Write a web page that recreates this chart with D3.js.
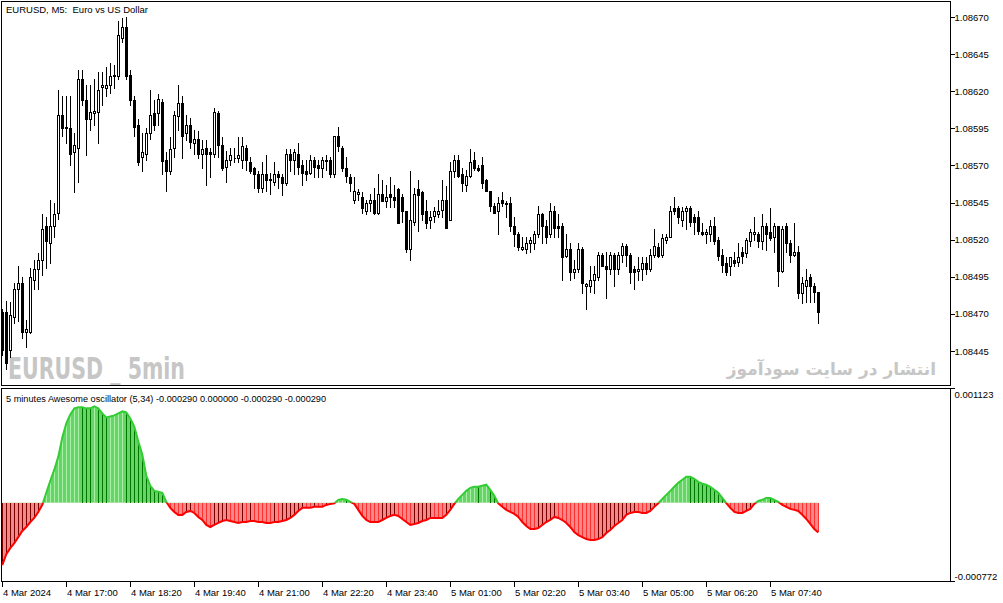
<!DOCTYPE html>
<html><head><meta charset="utf-8">
<script src="https://cdn.jsdelivr.net/npm/d3@7"></script>
<style>body{margin:0;background:#fff}svg{display:block}text{white-space:pre}</style>
</head><body>
<svg id="c" width="1003" height="603"></svg>
<script>
// ---- DATA ----
const openP=[1.08471,1.08471,1.08446,1.08468,1.08487,1.08491,1.08458,1.08458,1.08493,1.08500,
1.08506,1.08529,1.08518,1.08529,1.08538,1.08604,1.08596,1.08595,1.08579,1.08582,
1.08628,1.08614,1.08601,1.08605,1.08606,1.08623,1.08622,1.08624,1.08630,1.08630,
1.08656,1.08663,1.08631,1.08614,1.08597,1.08576,1.08578,1.08592,1.08605,1.08605,
1.08613,1.08574,1.08566,1.08582,1.08603,1.08612,1.08592,1.08597,1.08585,1.08588,
1.08578,1.08582,1.08579,1.08578,1.08605,1.08584,1.08569,1.08574,1.08575,1.08575,
1.08574,1.08582,1.08572,1.08568,1.08564,1.08555,1.08564,1.08560,1.08559,1.08564,
1.08562,1.08558,1.08578,1.08574,1.08578,1.08570,1.08566,1.08565,1.08574,1.08570,
1.08568,1.08574,1.08574,1.08564,1.08590,1.08582,1.08568,1.08562,1.08547,1.08551,
1.08549,1.08539,1.08545,1.08547,1.08538,1.08551,1.08546,1.08551,1.08549,1.08554,
1.08549,1.08539,1.08514,1.08532,1.08554,1.08552,1.08539,1.08533,1.08536,1.08537,
1.08540,1.08547,1.08533,1.08566,1.08574,1.08564,1.08557,1.08563,1.08574,1.08568,
1.08570,1.08560,1.08553,1.08543,1.08539,1.08547,1.08545,1.08545,1.08529,1.08524,
1.08514,1.08514,1.08518,1.08518,1.08524,1.08537,1.08529,1.08524,1.08539,1.08529,
1.08529,1.08509,1.08514,1.08498,1.08500,1.08514,1.08489,1.08489,1.08493,1.08495,
1.08510,1.08502,1.08500,1.08510,1.08500,1.08510,1.08516,1.08510,1.08500,1.08499,
1.08500,1.08504,1.08500,1.08510,1.08515,1.08510,1.08520,1.08522,1.08541,1.08541,
1.08533,1.08539,1.08541,1.08535,1.08535,1.08525,1.08524,1.08524,1.08529,1.08520,
1.08510,1.08504,1.08502,1.08506,1.08505,1.08512,1.08511,1.08519,1.08524,1.08524,
1.08519,1.08529,1.08525,1.08522,1.08529,1.08499,1.08529,1.08518,1.08510,1.08512,
1.08484,1.08489,1.08495,1.08489,1.08485];
const highP=[1.08473,1.08479,1.08478,1.08491,1.08502,1.08495,1.08466,1.08501,1.08506,1.08511,
1.08537,1.08535,1.08547,1.08545,1.08621,1.08617,1.08617,1.08617,1.08592,1.08634,
1.08634,1.08624,1.08624,1.08628,1.08633,1.08633,1.08636,1.08639,1.08638,1.08667,
1.08669,1.08670,1.08634,1.08617,1.08601,1.08592,1.08595,1.08621,1.08614,1.08618,
1.08615,1.08579,1.08589,1.08607,1.08624,1.08617,1.08604,1.08602,1.08594,1.08593,
1.08587,1.08587,1.08582,1.08609,1.08607,1.08589,1.08580,1.08582,1.08582,1.08589,
1.08589,1.08584,1.08576,1.08569,1.08566,1.08572,1.08577,1.08565,1.08572,1.08566,
1.08564,1.08581,1.08581,1.08581,1.08585,1.08574,1.08574,1.08577,1.08576,1.08574,
1.08576,1.08577,1.08576,1.08590,1.08596,1.08583,1.08576,1.08564,1.08562,1.08554,
1.08552,1.08547,1.08551,1.08555,1.08564,1.08560,1.08557,1.08562,1.08557,1.08555,
1.08551,1.08539,1.08566,1.08555,1.08560,1.08553,1.08547,1.08539,1.08542,1.08547,
1.08560,1.08556,1.08572,1.08577,1.08577,1.08568,1.08567,1.08581,1.08579,1.08570,
1.08576,1.08561,1.08553,1.08545,1.08549,1.08552,1.08546,1.08549,1.08535,1.08525,
1.08522,1.08522,1.08522,1.08526,1.08543,1.08538,1.08533,1.08545,1.08543,1.08537,
1.08531,1.08524,1.08518,1.08506,1.08518,1.08515,1.08491,1.08502,1.08502,1.08512,
1.08511,1.08512,1.08512,1.08511,1.08512,1.08518,1.08517,1.08511,1.08502,1.08508,
1.08508,1.08508,1.08514,1.08527,1.08518,1.08524,1.08524,1.08543,1.08549,1.08543,
1.08542,1.08543,1.08543,1.08537,1.08539,1.08531,1.08527,1.08533,1.08535,1.08522,
1.08514,1.08508,1.08508,1.08512,1.08518,1.08515,1.08521,1.08527,1.08535,1.08525,
1.08537,1.08531,1.08541,1.08531,1.08529,1.08529,1.08531,1.08520,1.08531,1.08516,
1.08495,1.08500,1.08497,1.08491,1.08485];
const lowP=[1.08442,1.08433,1.08441,1.08464,1.08465,1.08454,1.08448,1.08457,1.08487,1.08487,
1.08496,1.08501,1.08504,1.08522,1.08534,1.08590,1.08585,1.08570,1.08552,1.08559,
1.08611,1.08577,1.08594,1.08597,1.08585,1.08611,1.08617,1.08619,1.08622,1.08628,
1.08653,1.08628,1.08611,1.08590,1.08570,1.08566,1.08574,1.08588,1.08594,1.08597,
1.08564,1.08553,1.08564,1.08576,1.08594,1.08575,1.08587,1.08582,1.08578,1.08575,
1.08568,1.08557,1.08562,1.08576,1.08576,1.08567,1.08559,1.08570,1.08572,1.08572,
1.08568,1.08567,1.08565,1.08555,1.08552,1.08552,1.08553,1.08551,1.08557,1.08555,
1.08550,1.08557,1.08566,1.08564,1.08564,1.08557,1.08560,1.08564,1.08562,1.08562,
1.08562,1.08567,1.08562,1.08562,1.08580,1.08566,1.08559,1.08553,1.08545,1.08547,
1.08538,1.08537,1.08539,1.08537,1.08537,1.08546,1.08542,1.08542,1.08542,1.08531,
1.08532,1.08512,1.08506,1.08530,1.08526,1.08533,1.08528,1.08528,1.08532,1.08535,
1.08535,1.08528,1.08533,1.08562,1.08562,1.08553,1.08553,1.08562,1.08567,1.08566,
1.08555,1.08553,1.08539,1.08538,1.08524,1.08543,1.08535,1.08526,1.08516,1.08513,
1.08513,1.08511,1.08512,1.08514,1.08522,1.08518,1.08518,1.08522,1.08522,1.08522,
1.08493,1.08508,1.08493,1.08494,1.08498,1.08484,1.08473,1.08485,1.08484,1.08493,
1.08502,1.08481,1.08497,1.08489,1.08497,1.08505,1.08502,1.08491,1.08487,1.08493,
1.08493,1.08497,1.08499,1.08508,1.08508,1.08508,1.08518,1.08522,1.08537,1.08531,
1.08529,1.08527,1.08529,1.08524,1.08524,1.08523,1.08518,1.08519,1.08517,1.08506,
1.08498,1.08496,1.08496,1.08502,1.08502,1.08504,1.08508,1.08516,1.08520,1.08515,
1.08514,1.08513,1.08520,1.08512,1.08489,1.08498,1.08512,1.08505,1.08509,1.08481,
1.08477,1.08478,1.08478,1.08478,1.08464];
const closeP=[1.08446,1.08437,1.08469,1.08487,1.08491,1.08458,1.08460,1.08495,1.08500,1.08506,
1.08527,1.08519,1.08529,1.08537,1.08604,1.08595,1.08595,1.08578,1.08584,1.08628,
1.08614,1.08601,1.08606,1.08607,1.08621,1.08624,1.08624,1.08630,1.08631,1.08658,
1.08663,1.08630,1.08614,1.08596,1.08572,1.08579,1.08592,1.08604,1.08597,1.08615,
1.08573,1.08566,1.08581,1.08604,1.08612,1.08590,1.08597,1.08586,1.08588,1.08578,
1.08581,1.08578,1.08578,1.08606,1.08584,1.08568,1.08574,1.08577,1.08575,1.08577,
1.08583,1.08574,1.08566,1.08564,1.08555,1.08564,1.08560,1.08561,1.08564,1.08562,
1.08558,1.08578,1.08574,1.08579,1.08569,1.08565,1.08564,1.08574,1.08569,1.08568,
1.08574,1.08573,1.08564,1.08590,1.08583,1.08568,1.08563,1.08558,1.08553,1.08552,
1.08541,1.08545,1.08547,1.08538,1.08551,1.08546,1.08549,1.08549,1.08547,1.08531,
1.08539,1.08514,1.08533,1.08551,1.08550,1.08537,1.08531,1.08535,1.08539,1.08539,
1.08547,1.08528,1.08566,1.08574,1.08563,1.08558,1.08563,1.08572,1.08568,1.08567,
1.08558,1.08553,1.08543,1.08538,1.08545,1.08545,1.08544,1.08529,1.08524,1.08515,
1.08515,1.08518,1.08520,1.08524,1.08537,1.08529,1.08522,1.08539,1.08528,1.08528,
1.08508,1.08514,1.08498,1.08500,1.08514,1.08491,1.08490,1.08493,1.08497,1.08510,
1.08502,1.08500,1.08510,1.08500,1.08510,1.08516,1.08510,1.08498,1.08498,1.08500,
1.08504,1.08500,1.08510,1.08516,1.08509,1.08521,1.08522,1.08539,1.08539,1.08535,
1.08539,1.08541,1.08532,1.08532,1.08526,1.08524,1.08525,1.08529,1.08519,1.08509,
1.08503,1.08498,1.08508,1.08504,1.08508,1.08509,1.08520,1.08525,1.08525,1.08519,
1.08529,1.08524,1.08521,1.08529,1.08499,1.08527,1.08518,1.08510,1.08512,1.08484,
1.08491,1.08493,1.08489,1.08485,1.08471];
const aoValues=[-0.000612,-0.000503,-0.000444,-0.000395,-0.000336,-0.000276,-0.000237,-0.000188,-0.000148,-0.000089,
-0.000020,0.000099,0.000217,0.000326,0.000454,0.000642,0.000780,0.000869,0.000928,0.000938,
0.000938,0.000928,0.000928,0.000948,0.000928,0.000878,0.000839,0.000849,0.000859,0.000878,
0.000898,0.000888,0.000829,0.000750,0.000602,0.000474,0.000266,0.000168,0.000118,0.000109,
0.000099,0.000010,-0.000049,-0.000089,-0.000118,-0.000118,-0.000089,-0.000079,-0.000099,-0.000138,
-0.000168,-0.000217,-0.000237,-0.000217,-0.000197,-0.000178,-0.000168,-0.000178,-0.000188,-0.000197,
-0.000188,-0.000188,-0.000178,-0.000178,-0.000188,-0.000188,-0.000197,-0.000197,-0.000188,-0.000188,
-0.000178,-0.000168,-0.000148,-0.000118,-0.000079,-0.000049,-0.000049,-0.000049,-0.000039,-0.000039,
-0.000039,-0.000020,-0.000010,-0.000005,0.000030,0.000039,0.000030,0.000010,-0.000010,-0.000069,
-0.000128,-0.000168,-0.000188,-0.000188,-0.000188,-0.000168,-0.000148,-0.000128,-0.000118,-0.000128,
-0.000158,-0.000188,-0.000217,-0.000207,-0.000197,-0.000178,-0.000168,-0.000148,-0.000148,-0.000148,
-0.000148,-0.000118,-0.000069,-0.000010,0.000039,0.000079,0.000118,0.000148,0.000158,0.000158,
0.000168,0.000178,0.000128,0.000069,-0.000005,-0.000039,-0.000069,-0.000089,-0.000109,-0.000138,
-0.000188,-0.000227,-0.000257,-0.000257,-0.000247,-0.000217,-0.000188,-0.000168,-0.000138,-0.000148,
-0.000168,-0.000197,-0.000237,-0.000286,-0.000316,-0.000336,-0.000355,-0.000365,-0.000365,-0.000355,
-0.000336,-0.000296,-0.000266,-0.000227,-0.000197,-0.000168,-0.000118,-0.000099,-0.000089,-0.000089,
-0.000099,-0.000099,-0.000079,-0.000039,-0.000003,0.000039,0.000079,0.000118,0.000158,0.000197,
0.000227,0.000257,0.000257,0.000237,0.000207,0.000188,0.000178,0.000158,0.000128,0.000099,
0.000049,-0.000003,-0.000049,-0.000089,-0.000099,-0.000099,-0.000079,-0.000059,-0.000010,0.000020,
0.000030,0.000049,0.000049,0.000030,0.000010,-0.000020,-0.000039,-0.000059,-0.000069,-0.000079,
-0.000118,-0.000158,-0.000207,-0.000257,-0.000290];
const priceTicks=[1.08670,1.08645,1.08620,1.08595,1.08570,1.08545,1.08520,1.08495,1.08470,1.08445];
const aoRange=[-0.000772,0.001123];
const timeTickIndex=[0,16,32,48,64,80,96,112,128,144,160,176,192];
const timeTickLabels=["4 Mar 2024","4 Mar 17:00","4 Mar 18:20","4 Mar 19:40","4 Mar 21:00","4 Mar 22:20","4 Mar 23:40","5 Mar 01:00","5 Mar 02:20","5 Mar 03:40","5 Mar 05:00","5 Mar 06:20","5 Mar 07:40"];
const titleMain="EURUSD, M5:  Euro vs US Dollar";
const titleAO="5 minutes Awesome oscillator (5,34) -0.000290 0.000000 -0.000290 -0.000290";

// ---- DRAW ----
const FONT="'Liberation Sans', Arial, sans-serif";
const svg=d3.select("#c");
svg.append("rect").attr("width",1003).attr("height",603).attr("fill","#fff");
const L=1.5,R=950.5,mTop=1.5,mBot=385.5,sTop=388.5,sBot=581.5;
const n=openP.length;
const x=d3.scaleLinear().domain([0,n-1]).range([2.3,2.3+4*(n-1)]);
const yP=d3.scaleLinear().domain([1.08445,1.08670]).range([351,17]);
const yA=d3.scaleLinear().domain(aoRange).range([sBot,sTop]);
const col=i=>Math.floor(x(i))+0.5;

// watermarks
svg.append("text").attr("x",8).attr("y",378.5).attr("font-family","'Liberation Sans Narrow','DejaVu Sans Condensed',Arial,sans-serif")
  .attr("font-weight","bold").attr("font-size",30).attr("fill","#c6c6c6")
  .attr("textLength",177).attr("lengthAdjust","spacingAndGlyphs").text("EURUSD _ 5min");
svg.append("text").attr("x",936).attr("y",375).attr("text-anchor","start").attr("direction","rtl")
  .attr("font-family","'DejaVu Sans',sans-serif").attr("font-weight","bold").attr("font-size",17).attr("fill","#c6c6c6")
  .text("انتشار در سایت سودآموز");

// candles
const cg=svg.append("g").attr("shape-rendering","crispEdges");
const idx=d3.range(n);
cg.selectAll("line.w").data(idx).join("line").attr("class","w")
  .attr("x1",col).attr("x2",col)
  .attr("y1",i=>Math.round(yP(highP[i]))).attr("y2",i=>Math.round(yP(lowP[i]))+1)
  .attr("stroke","#000").attr("stroke-width",1);
cg.selectAll("path.b").data(idx).join("path").attr("class","b")
  .attr("d",i=>{const t=Math.round(yP(Math.max(openP[i],closeP[i]))),b=Math.round(yP(Math.min(openP[i],closeP[i])));
     const c=col(i);return `M${c-1},${t+0.5}h2v${b-t}h-2Z`;})
  .attr("fill",i=>closeP[i]>openP[i]?"#fff":"#000").attr("stroke","#000").attr("stroke-width",1);

// frames
const fg=svg.append("g").attr("shape-rendering","crispEdges").attr("fill","none").attr("stroke","#000");
fg.append("rect").attr("x",L).attr("y",mTop).attr("width",R-L).attr("height",mBot-mTop);
fg.append("rect").attr("x",L).attr("y",sTop).attr("width",R-L).attr("height",sBot-sTop);

// AO
const zero=yA(0);
const defs=svg.append("defs");
defs.append("clipPath").attr("id","cp").append("rect").attr("x",0).attr("y",sTop).attr("width",R).attr("height",zero-sTop);
defs.append("clipPath").attr("id","cn").append("rect").attr("x",0).attr("y",zero).attr("width",R).attr("height",sBot-zero);
const area=d3.area().x((d,i)=>x(i)).y0(zero).y1(d=>yA(d));
svg.append("path").attr("d",area(aoValues)).attr("fill","#66d466").attr("clip-path","url(#cp)");
svg.append("path").attr("d",area(aoValues)).attr("fill","#f08a8a").attr("clip-path","url(#cn)");
const sg=svg.append("g").attr("shape-rendering","crispEdges");
sg.selectAll("line").data(idx).join("line")
  .attr("x1",col).attr("x2",col).attr("y1",zero).attr("y2",i=>yA(aoValues[i]))
  .attr("stroke",i=>{const v=aoValues[i],up=i>0?v>aoValues[i-1]:true;
     if(v>=0) return up?"#a8f0a8":"#007800"; return up?"#7a0000":"#ff3030";})
  .attr("stroke-width",1);
const line=d3.line().x((d,i)=>x(i)).y(d=>yA(d));
svg.append("path").attr("d",line(aoValues)).attr("fill","none").attr("stroke","#32cd32").attr("stroke-width",2).attr("clip-path","url(#cp)");
svg.append("path").attr("d",line(aoValues)).attr("fill","none").attr("stroke","#ff0000").attr("stroke-width",2).attr("clip-path","url(#cn)");

// right axis main
const ag=svg.append("g").attr("font-family",FONT).attr("font-size",9.5).attr("fill","#000");
ag.selectAll("line").data(priceTicks).join("line").attr("shape-rendering","crispEdges")
  .attr("x1",R).attr("x2",R+4).attr("y1",d=>Math.round(yP(d))+0.5).attr("y2",d=>Math.round(yP(d))+0.5).attr("stroke","#000");
ag.selectAll("text").data(priceTicks).join("text").attr("x",R+4).attr("y",d=>yP(d)+3.5).text(d=>d.toFixed(5));
// AO axis labels
const bg=svg.append("g").attr("font-family",FONT).attr("font-size",9.5).attr("fill","#000");
bg.append("line").attr("x1",R).attr("x2",R+4).attr("y1",sTop).attr("y2",sTop).attr("stroke","#000").attr("shape-rendering","crispEdges");
bg.append("line").attr("x1",R).attr("x2",R+4).attr("y1",sBot).attr("y2",sBot).attr("stroke","#000").attr("shape-rendering","crispEdges");
bg.append("text").attr("x",R+4).attr("y",398).text(aoRange[1].toFixed(6));
bg.append("text").attr("x",R+4).attr("y",580).text(aoRange[0].toFixed(6));

// x axis
const xg=svg.append("g").attr("font-family",FONT).attr("font-size",9.5).attr("fill","#000");
xg.selectAll("line").data(timeTickIndex).join("line").attr("shape-rendering","crispEdges")
  .attr("x1",col).attr("x2",col).attr("y1",sBot).attr("y2",sBot+5).attr("stroke","#000");
xg.selectAll("text").data(timeTickIndex).join("text").attr("x",(d)=>col(d)+0.5).attr("y",596)
  .text((d,i)=>timeTickLabels[i]);

// titles
svg.append("text").attr("x",6).attr("y",13).attr("font-family",FONT).attr("font-size",9.5).text(titleMain);
svg.append("text").attr("x",6).attr("y",402).attr("font-family",FONT).attr("font-size",9.2).text(titleAO);
</script>
</body></html>
